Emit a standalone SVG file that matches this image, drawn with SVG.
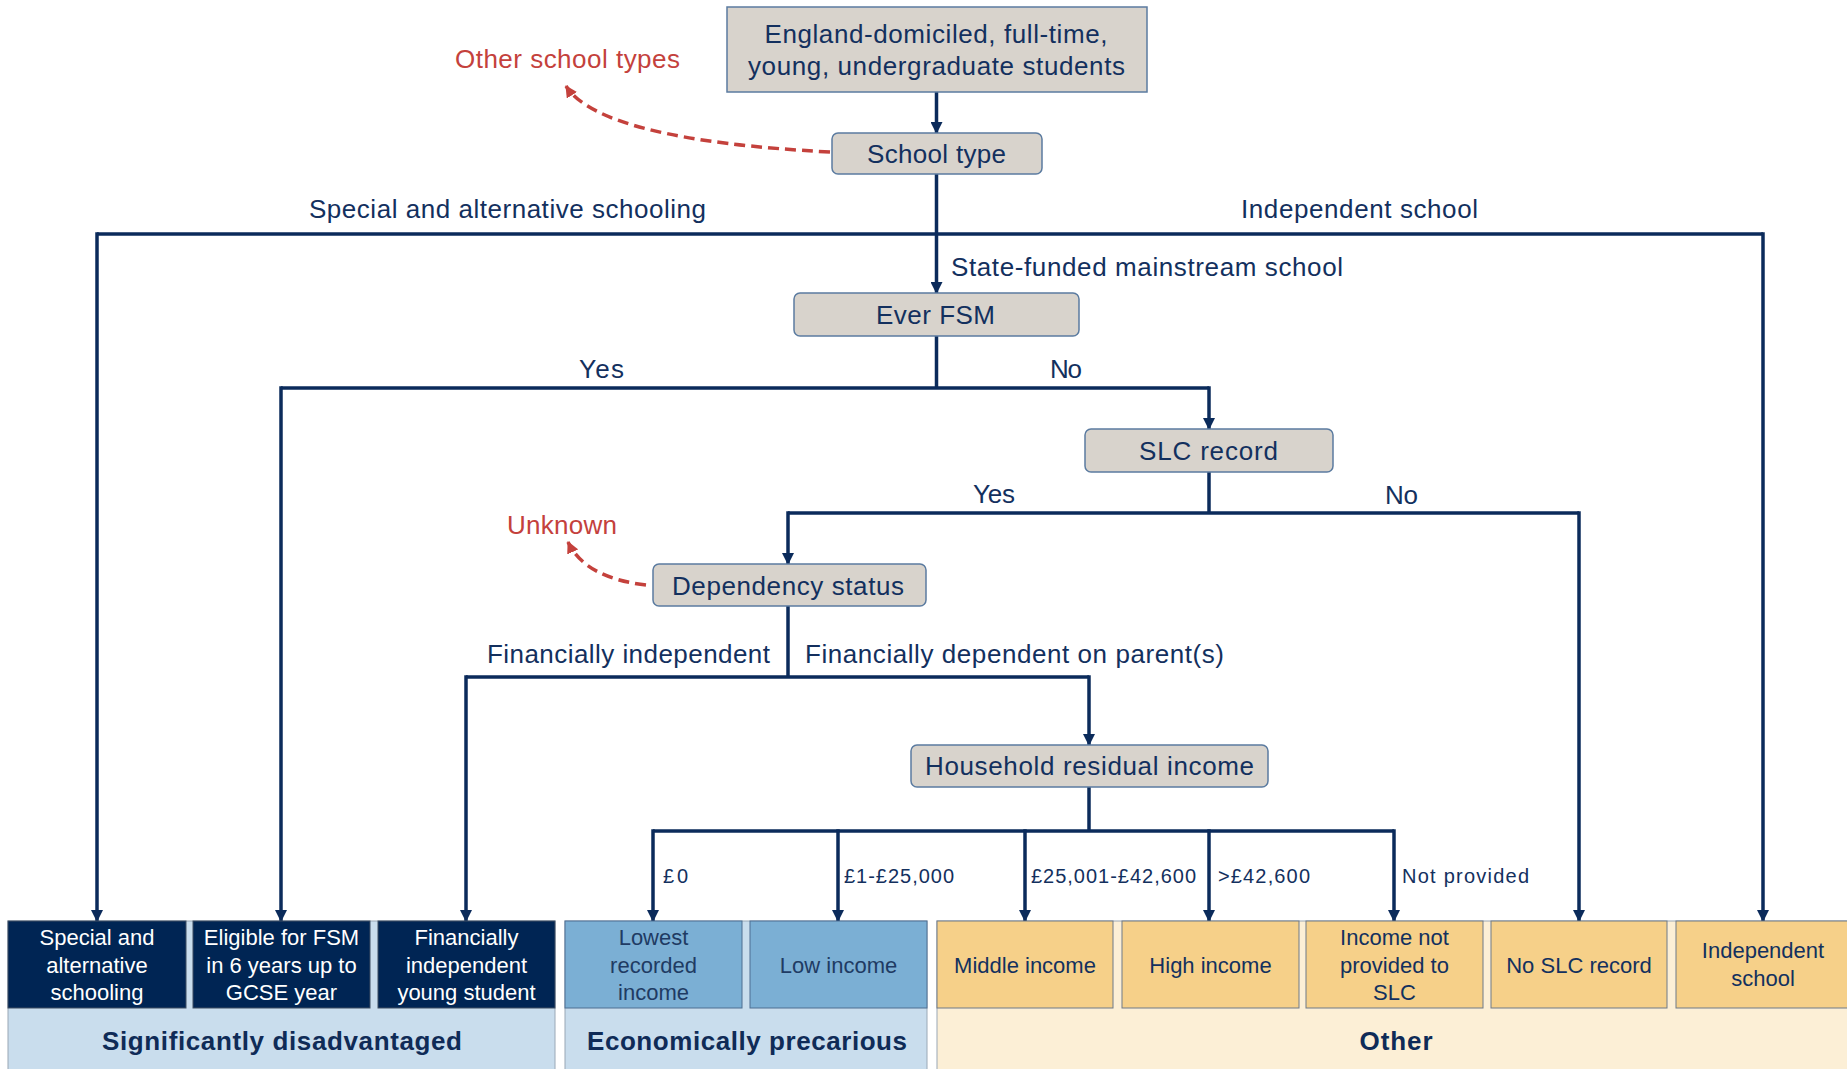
<svg xmlns="http://www.w3.org/2000/svg" width="1847" height="1069" viewBox="0 0 1847 1069">
<defs>
<style>
.t{font-family:"Liberation Sans",Arial,sans-serif;fill:#13305E;}
.lbl{font-size:26px;}
.red{font-size:26px;fill:#C4413C;}
.rng{font-size:20px;}
.nt{font-size:26px;text-anchor:middle;}
.bx{font-size:22px;text-anchor:middle;}
.wh{fill:#FFFFFF;}
.bl{fill:#1F3B63;}
.ttl{font-size:26px;font-weight:bold;text-anchor:middle;fill:#0F2B57;}
.node{fill:#D8D3CC;stroke:#5B7BA0;stroke-width:1.5;}
.dark{fill:#002554;stroke:#3F4F63;stroke-width:1;}
.blue{fill:#7BAFD4;stroke:#4E6F92;stroke-width:1;}
.yel{fill:#F6D089;stroke:#6E7A88;stroke-width:1;}
.regb{fill:#C9DDED;stroke:#9AA8B6;stroke-width:1;}
.regy{fill:#FCEFD6;stroke:#9AA8B6;stroke-width:1;}
.ln{fill:none;stroke:#0B2B5B;stroke-width:3.5;}
.arr{fill:none;stroke:#0B2B5B;stroke-width:3.5;marker-end:url(#ah);}
.dash{fill:none;stroke:#C4413C;stroke-width:3.5;stroke-dasharray:11 6;marker-end:url(#rh);}
</style>
<marker id="ah" markerUnits="userSpaceOnUse" markerWidth="12" markerHeight="12" viewBox="0 0 12 12" refX="11" refY="6" orient="auto">
<path d="M0,0 L12,6 L0,12 z" fill="#0B2B5B"/>
</marker>
<marker id="rh" markerUnits="userSpaceOnUse" markerWidth="12" markerHeight="12" viewBox="0 0 12 12" refX="11" refY="6" orient="auto">
<path d="M0,0 L12,6 L0,12 z" fill="#C4413C"/>
</marker>
</defs>
<rect width="1847" height="1069" fill="#FFFFFF"/>

<g id="regions">
<rect class="regb" x="8" y="921" width="547" height="160"/>
<rect class="regb" x="565" y="921" width="362" height="160"/>
<rect class="regy" x="937" y="921" width="920" height="160"/>
</g>

<g id="connectors">
<path class="arr" d="M936.5,92 V133"/>
<path class="arr" d="M936.5,174 V293"/>
<path class="ln" d="M97,234 H1763"/>
<path class="arr" d="M97,232.25 V921"/>
<path class="arr" d="M1763,232.25 V921"/>
<path class="ln" d="M936.5,336 V388"/>
<path class="ln" d="M281,388 H1209"/>
<path class="arr" d="M281,386.25 V921"/>
<path class="arr" d="M1209,386.25 V429"/>
<path class="ln" d="M1209,472 V513"/>
<path class="ln" d="M788,513 H1579"/>
<path class="arr" d="M788,511.25 V564"/>
<path class="arr" d="M1579,511.25 V921"/>
<path class="ln" d="M788,606 V677"/>
<path class="ln" d="M466,677 H1089"/>
<path class="arr" d="M466,675.25 V921"/>
<path class="arr" d="M1089,675.25 V745"/>
<path class="ln" d="M1089,787 V831"/>
<path class="ln" d="M653,831 H1394"/>
<path class="arr" d="M653,829.25 V921"/>
<path class="arr" d="M838,829.25 V921"/>
<path class="arr" d="M1025,829.25 V921"/>
<path class="arr" d="M1209,829.25 V921"/>
<path class="arr" d="M1394,829.25 V921"/>
<path class="dash" d="M830,152 Q600,140 566,86"/>
<path class="dash" d="M646,585 Q585,578 568,542"/>
</g>

<g id="connector-labels">
<text class="t lbl" x="309" y="218" textLength="397">Special and alternative schooling</text>
<text class="t lbl" x="1241" y="218" textLength="237">Independent school</text>
<text class="t lbl" x="951" y="276" textLength="392">State-funded mainstream school</text>
<text class="t lbl" x="579" y="378" textLength="45">Yes</text>
<text class="t lbl" x="1050" y="378" textLength="32">No</text>
<text class="t lbl" x="973" y="503" textLength="42">Yes</text>
<text class="t lbl" x="1385" y="504" textLength="33">No</text>
<text class="t lbl" x="487" y="663" textLength="283">Financially independent</text>
<text class="t lbl" x="805" y="663" textLength="419">Financially dependent on parent(s)</text>
<text class="t red" x="455" y="68" textLength="225">Other school types</text>
<text class="t red" x="507" y="534" textLength="110">Unknown</text>
<text class="t rng" x="663" y="883" textLength="25">£0</text>
<text class="t rng" x="844" y="883" textLength="110">£1-£25,000</text>
<text class="t rng" x="1031" y="883" textLength="165">£25,001-£42,600</text>
<text class="t rng" x="1218" y="883" textLength="92">&gt;£42,600</text>
<text class="t rng" x="1402" y="883" textLength="127">Not provided</text>
</g>

<g id="node-start">
<rect class="node" x="727" y="7" width="420" height="85"/>
<text class="t nt" x="936" y="43" textLength="343">England-domiciled, full-time,</text>
<text class="t nt" x="936.5" y="75" textLength="377">young, undergraduate students</text>
</g>
<g id="node-school-type">
<rect class="node" x="832" y="133" width="210" height="41" rx="6"/>
<text class="t nt" x="936.5" y="163" textLength="139">School type</text>
</g>
<g id="node-ever-fsm">
<rect class="node" x="794" y="293" width="285" height="43" rx="6"/>
<text class="t nt" x="935.5" y="324" textLength="119">Ever FSM</text>
</g>
<g id="node-slc-record">
<rect class="node" x="1085" y="429" width="248" height="43" rx="6"/>
<text class="t nt" x="1208.5" y="460" textLength="139">SLC record</text>
</g>
<g id="node-dependency">
<rect class="node" x="653" y="564" width="273" height="42" rx="6"/>
<text class="t nt" x="788" y="595" textLength="232">Dependency status</text>
</g>
<g id="node-household">
<rect class="node" x="911" y="745" width="357" height="42" rx="6"/>
<text class="t nt" x="1089.5" y="775" textLength="329">Household residual income</text>
</g>

<g id="out-special">
<rect class="dark" x="8" y="921" width="178" height="87"/>
<text class="t bx wh" x="97" y="945">Special and</text>
<text class="t bx wh" x="97" y="972.5">alternative</text>
<text class="t bx wh" x="97" y="1000">schooling</text>
</g>
<g id="out-fsm">
<rect class="dark" x="193" y="921" width="177" height="87"/>
<text class="t bx wh" x="281.5" y="945">Eligible for FSM</text>
<text class="t bx wh" x="281.5" y="972.5">in 6 years up to</text>
<text class="t bx wh" x="281.5" y="1000">GCSE year</text>
</g>
<g id="out-fin-indep">
<rect class="dark" x="378" y="921" width="177" height="87"/>
<text class="t bx wh" x="466.5" y="945">Financially</text>
<text class="t bx wh" x="466.5" y="972.5">independent</text>
<text class="t bx wh" x="466.5" y="1000">young student</text>
</g>
<g id="out-lowest">
<rect class="blue" x="565" y="921" width="177" height="87"/>
<text class="t bx bl" x="653.5" y="945">Lowest</text>
<text class="t bx bl" x="653.5" y="972.5">recorded</text>
<text class="t bx bl" x="653.5" y="1000">income</text>
</g>
<g id="out-low">
<rect class="blue" x="750" y="921" width="177" height="87"/>
<text class="t bx bl" x="838.5" y="972.5">Low income</text>
</g>
<g id="out-middle">
<rect class="yel" x="937" y="921" width="176" height="87"/>
<text class="t bx" x="1025" y="972.5">Middle income</text>
</g>
<g id="out-high">
<rect class="yel" x="1122" y="921" width="177" height="87"/>
<text class="t bx" x="1210.5" y="972.5">High income</text>
</g>
<g id="out-not-provided">
<rect class="yel" x="1306" y="921" width="177" height="87"/>
<text class="t bx" x="1394.5" y="945">Income not</text>
<text class="t bx" x="1394.5" y="972.5">provided to</text>
<text class="t bx" x="1394.5" y="1000">SLC</text>
</g>
<g id="out-no-slc">
<rect class="yel" x="1491" y="921" width="176" height="87"/>
<text class="t bx" x="1579" y="972.5">No SLC record</text>
</g>
<g id="out-independent">
<rect class="yel" x="1676" y="921" width="180" height="87"/>
<text class="t bx" x="1763" y="958">Independent</text>
<text class="t bx" x="1763" y="985.5">school</text>
</g>

<g id="group-titles">
<text class="t ttl" x="282" y="1050" textLength="360">Significantly disadvantaged</text>
<text class="t ttl" x="747" y="1050" textLength="320">Economically precarious</text>
<text class="t ttl" x="1396" y="1050" textLength="73">Other</text>
</g>
</svg>
